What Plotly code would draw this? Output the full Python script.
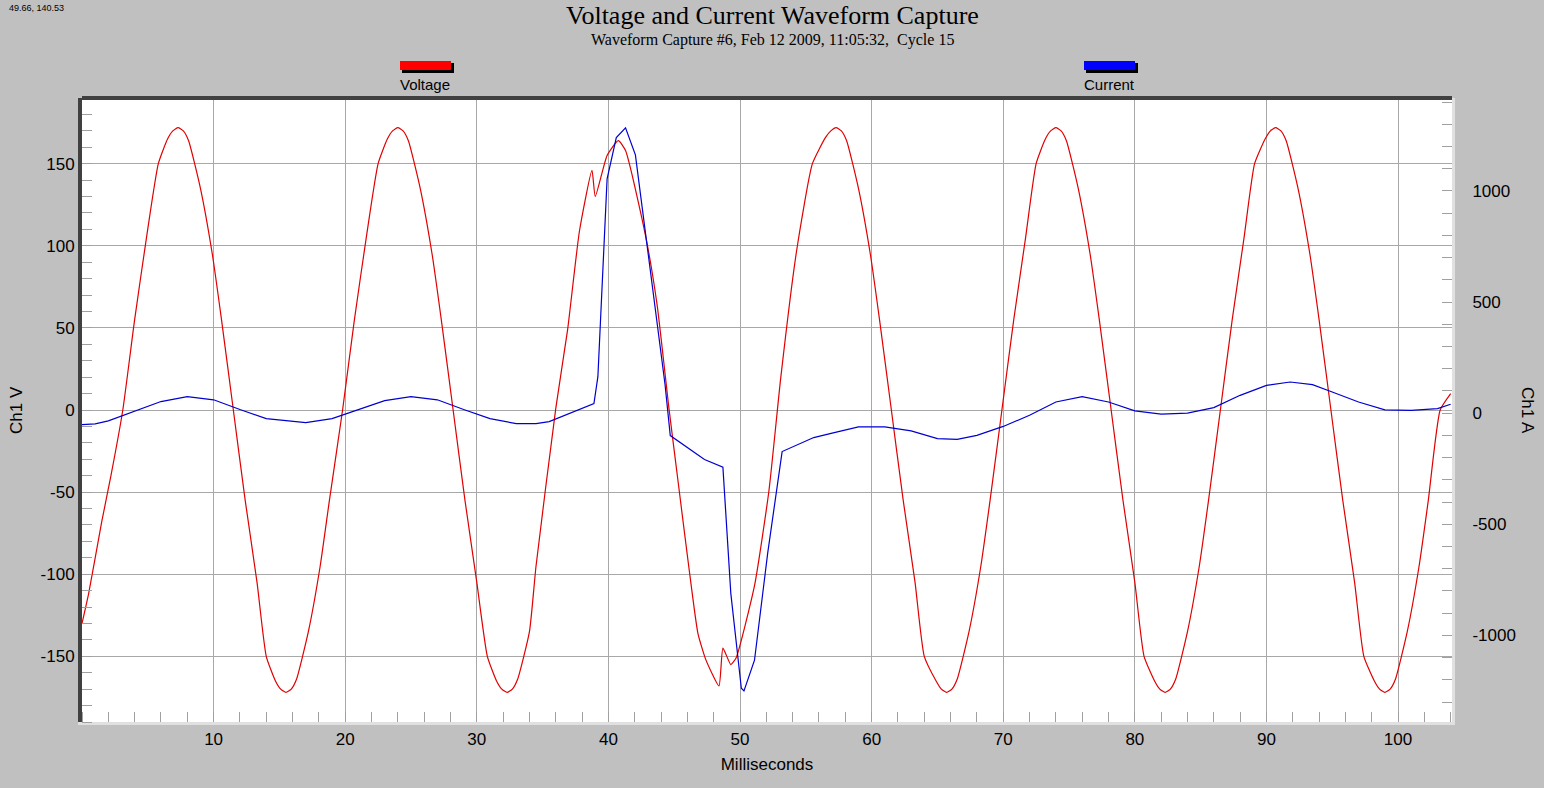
import plotly.graph_objects as go

v_t = [0, 0.5, 1.5, 2.2, 3.1, 4.0, 4.9, 5.8, 6.5, 6.9, 7.3, 7.7, 8.1, 9.0, 9.9, 10.6, 11.5, 12.4, 13.3, 14.0, 14.7, 15.1, 15.5,
       15.9, 16.3, 17.2, 18.1, 18.8, 19.8, 20.7, 21.6, 22.5, 23.2, 23.6, 24.0, 24.4, 24.8, 25.7, 26.6, 27.3, 28.2, 29.1, 30.0, 30.8,
       31.5, 31.9, 32.3, 32.7, 33.1, 34.0, 34.5, 36.0, 36.9, 37.8, 38.75, 39.0, 39.9, 40.75, 41.3, 42.8, 43.7, 44.6, 45.3, 46.1,
       46.8, 47.4, 48.4, 48.7, 49.3, 49.7, 51.1, 52.2, 53.1, 54.3, 55.5, 56.5, 56.9, 57.3, 57.7, 58.1, 59.0, 59.9, 60.6, 61.5,
       62.4, 63.3, 64.0, 64.9, 65.3, 65.7, 66.1, 66.5, 67.4, 68.3, 69.0, 69.9, 70.8, 71.7, 72.5, 73.2, 73.6, 74.0, 74.4, 74.8, 75.7, 76.6,
       77.3, 78.2, 79.1, 80.0, 80.7, 81.5, 81.9, 82.3, 82.7, 83.1, 84.0, 84.9, 85.6, 86.5, 87.4, 88.3, 89.1, 89.9, 90.3, 90.7, 91.1, 91.5,
       92.4, 93.3, 94.0, 94.9, 95.8, 96.7, 97.4, 98.2, 98.6, 99.0, 99.4, 99.8, 100.7, 101.6, 102.3, 103.2, 104.0]
v_val = [-130, -112, -68, -40, 0, 55, 105, 150, 165, 170, 172, 170, 164, 135, 95, 55, 0, -55, -105, -150, -165, -170, -172,
         -170, -164, -135, -95, -55, 0, 55, 105, 150, 165, 170, 172, 170, 164, 135, 95, 55, 0, -55, -105, -150,
         -165, -170, -172, -170, -164, -135, -95, 1, 49, 109, 146, 130, 155, 164, 158, 107, 64, 1, -44, -95,
         -136, -152, -168, -145, -155, -151, -107, -49, 20, 97, 150, 166, 170, 172, 170, 164, 135, 95, 55, 0,
         -55, -105, -150, -165, -170, -172, -170, -164, -135, -95, -55, 0, 55, 105, 150, 165, 170, 172, 170, 164, 135, 95,
         55, 0, -55, -105, -150, -165, -170, -172, -170, -164, -135, -95, -55, 0, 55, 105, 150, 165, 170, 172, 170, 164,
         135, 95, 55, 0, -55, -105, -150, -165, -170, -172, -170, -164, -135, -95, -55, 0, 10]

i_t = [0, 1, 2, 4, 6, 8, 10, 12, 14, 17, 19, 21, 23, 25, 27, 29, 31, 33, 34.5, 35.5, 38.9, 39.2, 39.9, 40.6, 41.3,
       42.05, 43.05, 44.3, 44.7, 47.3, 48.7, 49.3, 50.1, 50.3, 51.1, 52.1, 53.2, 55.6, 57, 59, 61, 63, 65, 66.5,
       68, 70, 72, 74, 76, 78, 80, 82, 84, 86, 88, 90, 91.8, 93.5, 95, 97, 99, 101, 103, 104]
i_val = [-52, -48, -35, 7, 52, 74, 60, 16, -25, -43, -25, 16, 56, 74, 60, 16, -25, -47, -47, -38, 43, 164, 1054, 1240, 1284,
         1162, 699, 130, -101, -209, -243, -811, -1238, -1250, -1112, -631, -173, -110, -90, -62, -62, -80, -115, -118,
         -100, -60, -10, 50, 74, 50, 10, -5, 0, 25, 80, 125, 140, 128, 95, 50, 15, 12, 20, 40]
x_ticks = [10, 20, 30, 40, 50, 60, 70, 80, 90, 100]
v_ticks = [-150, -100, -50, 0, 50, 100, 150]
a_ticks = [-1000, -500, 0, 500, 1000]

fig = go.Figure()
fig.add_trace(go.Scatter(x=v_t, y=v_val, mode="lines", line=dict(color="#e00000", width=1.2, shape="spline", smoothing=0.5), name="Voltage"))
fig.add_trace(go.Scatter(x=i_t, y=i_val, mode="lines", line=dict(color="#0000d0", width=1.2), name="Current", yaxis="y2"))

font = dict(family="Arial, Liberation Sans", size=17, color="black")
fig.update_layout(
    width=1544, height=788, showlegend=False,
    paper_bgcolor="#c0c0c0", plot_bgcolor="white",
    margin=dict(l=82, r=92, t=98, b=66),
    xaxis=dict(range=[0, 104.1], tickvals=x_ticks, showgrid=True, gridcolor="#a8a8a8", ticks="", zeroline=False,
               tickfont=font, title=dict(text="Milliseconds", font=font, standoff=10),
               minor=dict(dtick=2, tick0=0, ticks="inside", ticklen=10, tickcolor="#a0a0a0", showgrid=False),
               showline=True, linecolor="#e0e0e0", linewidth=3),
    yaxis=dict(range=[-190, 190], tickvals=v_ticks, ticktext=[str(v) for v in v_ticks], showgrid=True,
               gridcolor="#a8a8a8", ticks="", zeroline=False,
               tickfont=font, minor=dict(dtick=10, ticks="inside", ticklen=10, tickcolor="#a0a0a0", showgrid=False),
               showline=True, linecolor="#404040", linewidth=4),
    yaxis2=dict(range=[-1390, 1418], tickvals=a_ticks, ticktext=[str(v) for v in a_ticks], overlaying="y",
                side="right", showgrid=False, ticks="",
                zeroline=False, tickfont=font, ticklabelstandoff=14,
                minor=dict(dtick=100, ticks="inside", ticklen=10, tickcolor="#a0a0a0"),
                showline=True, linecolor="#e0e0e0", linewidth=3),
    shapes=[
        dict(type="line", xref="paper", yref="paper", x0=0, x1=1, y0=1, y1=1, line=dict(color="#404040", width=4)),
        dict(type="rect", xref="paper", yref="paper", x0=(402 - 82) / 1370, x1=(454 - 82) / 1370,
             y0=(788 - 66 - 73) / 624, y1=(788 - 66 - 63) / 624, fillcolor="black", line=dict(width=0)),
        dict(type="rect", xref="paper", yref="paper", x0=(400 - 82) / 1370, x1=(451 - 82) / 1370,
             y0=(788 - 66 - 70) / 624, y1=(788 - 66 - 61) / 624, fillcolor="#ff0000", line=dict(width=0)),
        dict(type="rect", xref="paper", yref="paper", x0=(1086 - 82) / 1370, x1=(1138 - 82) / 1370,
             y0=(788 - 66 - 73) / 624, y1=(788 - 66 - 63) / 624, fillcolor="black", line=dict(width=0)),
        dict(type="rect", xref="paper", yref="paper", x0=(1084 - 82) / 1370, x1=(1135 - 82) / 1370,
             y0=(788 - 66 - 70) / 624, y1=(788 - 66 - 61) / 624, fillcolor="#0000ff", line=dict(width=0)),
    ],
    annotations=[
        dict(text="Voltage and Current Waveform Capture", x=772, y=15, showarrow=False,
             font=dict(family="Liberation Serif, Times New Roman", size=26, color="black")),
        dict(text="Waveform Capture #6, Feb 12 2009, 11:05:32,  Cycle 15", x=772, y=40, showarrow=False,
             font=dict(family="Liberation Serif, Times New Roman", size=16, color="black")),
        dict(text="Voltage", x=425, y=84, showarrow=False, font=dict(family="Arial, Liberation Sans", size=15, color="black")),
        dict(text="Current", x=1109, y=84, showarrow=False, font=dict(family="Arial, Liberation Sans", size=15, color="black")),
        dict(text="49.66, 140.53", x=36, y=8, showarrow=False, font=dict(family="Arial, Liberation Sans", size=9, color="black")),
        dict(text="Ch1 V", x=16, y=410, showarrow=False, textangle=-90, font=font),
        dict(text="Ch1 A", x=1528, y=410, showarrow=False, textangle=90, font=font),
    ],
)
for a in fig.layout.annotations:
    a.xref = "paper"; a.yref = "paper"
    a.xanchor = "center"; a.yanchor = "middle"
    a.x = (a.x - 82) / 1370
    a.y = (788 - 66 - a.y) / 624
fig.write_html("out.html", config={"displayModeBar": False},
               post_script="document.body.style.margin='0';document.body.style.background='#c0c0c0';")
